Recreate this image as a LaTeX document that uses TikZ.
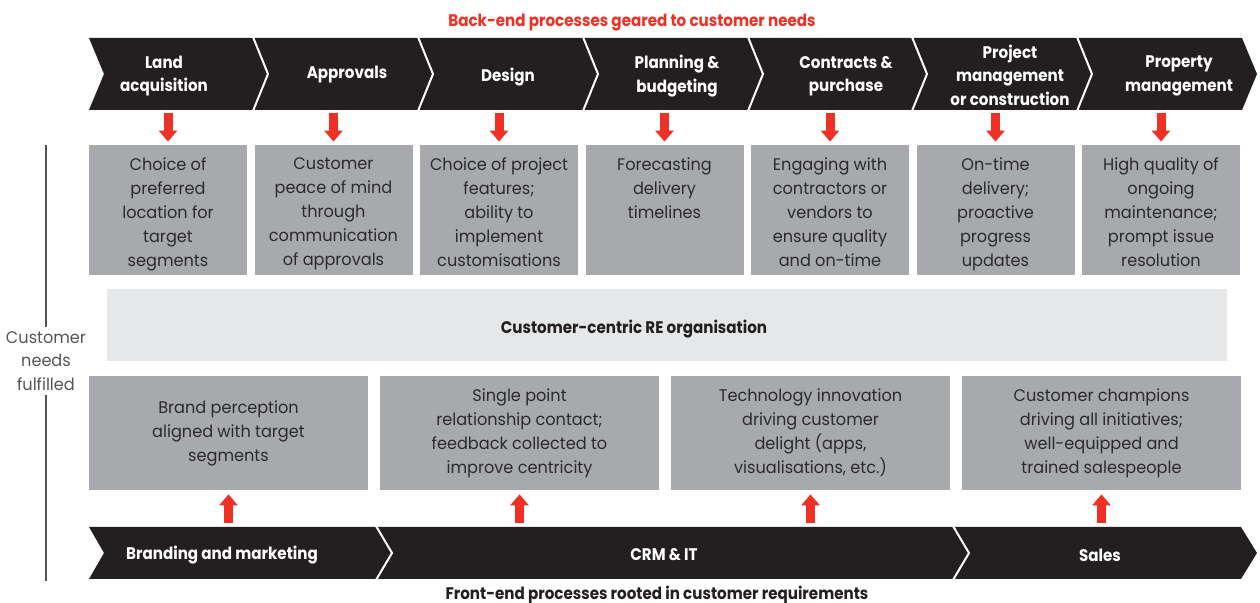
\documentclass[tikz,border=0pt]{standalone}
\usepackage{fontspec}
\setmainfont{Poppins}[FakeStretch=0.96]
\newfontfamily\headfont{Poppins}[FakeStretch=0.9]
\usetikzlibrary{arrows.meta}
\usetikzlibrary{positioning}
\definecolor{chevdark}{HTML}{231F20}
\definecolor{boxgray}{HTML}{A7A9AC}
\definecolor{bandgray}{HTML}{E6E7E8}
\definecolor{accred}{HTML}{EE3124}
\definecolor{textdark}{HTML}{2B2B2B}
\definecolor{sidegray}{HTML}{555555}

\begin{document}
\begin{tikzpicture}[
	x=0.5pt, y=-0.5pt,
  chev/.style = {fill=chevdark},
  chevsep/.style = {draw=white, line width=1pt},
  chevtext/.style = {text=white, font=\headfont\bfseries\fontsize{8.4}{11.75}\selectfont, align=center, inner sep=0pt},
  topbox/.style = {fill=boxgray, minimum width=79pt, minimum height=65pt, inner sep=0pt},
  boxtext/.style = {text=textdark, align=center, inner sep=0pt, font=\fontsize{8.4}{12}\selectfont},
  botbox/.style = {boxtext, fill=boxgray, minimum width=139.5pt, minimum height=57pt},
  redarrow/.style = {draw=accred, line width=4.5pt, -{Triangle[width=9pt,length=5.5pt]}},
  sidetext/.style = {text=sidegray, align=center, inner sep=2pt, font=\fontsize{8.4}{11.75}\selectfont}
  ]
	\useasboundingbox (0,0) rectangle (1260,603);

	\node[text=accred, font=\headfont\bfseries\fontsize{8.4}{10}\selectfont] (top) at (632,23) {Back-end processes geared to customer needs};
	\node[text=chevdark, font=\headfont\bfseries\fontsize{8.4}{10}\selectfont] (bottom) at (657,595) {Front-end processes rooted in customer requirements};

	% back-end chevrons
	\foreach \a/\b in {89/253, 253/418, 418/583, 583/748, 748/912, 912/1077, 1077/1242}
	  \fill[chev] (\a,38) -- (\b,38) -- (\b+15,74) -- (\b,110) -- (\a,110) -- (\a+15,74) -- cycle;
	\foreach \b in {253, 418, 583, 748, 912, 1077}
	  \draw[chevsep] (\b,37) -- (\b+15,74) -- (\b,111);

	\node[chevtext] (p1) at (164,76) {Land\\acquisition};
	\node[chevtext] (p2) at (347,75) {Approvals};
	\node[chevtext] (p3) at (508,77) {Design};
	\node[chevtext] (p4) at (677,76) {Planning \&\\budgeting};
	\node[chevtext] (p5) at (846,76) {Contracts \&\\purchase};
	\node[chevtext] (p6) at (1010,75) {Project\\management\\or construction};
	\node[chevtext] (p7) at (1179,76) {Property\\management};

	\foreach \i/\x in {1/168, 2/333.5, 3/499, 4/664.5, 5/830, 6/995.5, 7/1161} {
	  \coordinate (d\i) at (\x,110);
	  \node[topbox] (b\i) at (\x,210) {};
	  \draw[redarrow, shorten <=1.5pt, shorten >=1.5pt] (d\i) -- (b\i);
	}

	\node[boxtext, anchor=north] (t1) at ([yshift=-6.5pt]b1.north) {Choice of\\preferred\\location for\\target\\segments};
	\node[boxtext, anchor=north] (t2) at ([yshift=-6.5pt]b2.north) {Customer\\peace of mind\\through\\communication\\of approvals};
	\node[boxtext, anchor=north] (t3) at ([yshift=-6.5pt]b3.north) {Choice of project\\features;\\ability to\\implement\\customisations};
	\node[boxtext, anchor=north] (t4) at ([yshift=-6.5pt]b4.north) {Forecasting\\delivery\\timelines};
	\node[boxtext, anchor=north] (t5) at ([yshift=-6.5pt]b5.north) {Engaging with\\contractors or\\vendors to\\ensure quality\\and on-time};
	\node[boxtext, anchor=north] (t6) at ([yshift=-6.5pt]b6.north) {On-time\\delivery;\\proactive\\progress\\updates};
	\node[boxtext, anchor=north] (t7) at ([yshift=-6.5pt]b7.north) {High quality of\\ongoing\\maintenance;\\prompt issue\\resolution};

	\node[fill=bandgray, minimum width=560pt, minimum height=36pt, inner sep=0pt] (band) at (667,325.5) {};
	\node[text=chevdark, font=\headfont\bfseries\fontsize{8.4}{10}\selectfont] (bandtext) at (634,329) {Customer-centric RE organisation};

	% front-end chevrons
	\foreach \a/\b in {89/376, 376/953, 953/1241}
	  \fill[chev] (\a,527) -- (\b,527) -- (\b+16,553) -- (\b,579) -- (\a,579) -- (\a+15,553) -- cycle;
	\foreach \b in {376, 953}
	  \draw[chevsep] (\b,526) -- (\b+16,553) -- (\b,580);

	\node[chevtext] (f1) at (222,555) {Branding and marketing};
	\node[chevtext] (f2) at (664,555) {CRM \& IT};
	\node[chevtext] (f3) at (1100,555) {Sales};

	\node[botbox] (g1) at (228.5,433) {Brand perception\\aligned with target\\segments};
	\node[botbox] (g2) at (519.5,433) {Single point\\relationship contact;\\feedback collected to\\improve centricity};
	\node[botbox] (g3) at (810.5,433) {Technology innovation\\driving customer\\delight (apps,\\visualisations, etc.)};
	\node[botbox] (g4) at (1101.5,433) {Customer champions\\driving all initiatives;\\well-equipped and\\trained salespeople};

	\foreach \i/\x in {1/228.5, 2/519.5, 3/810.5, 4/1101.5} {
	  \coordinate (u\i) at (\x,527);
	  \draw[redarrow, shorten <=2pt, shorten >=2pt] (u\i) -- (g\i);
	}

	% side label
	\node[sidetext] (need) at (46,361) {Customer\\needs\\fulfilled};
	\coordinate (s1) at (46,145);
	\coordinate (s2) at (46,581);
	\draw[sidegray, line width=0.8pt] (s1) -- (need.north);
	\draw[sidegray, line width=0.8pt] (need.south) -- (s2);

\end{tikzpicture}
\end{document}
